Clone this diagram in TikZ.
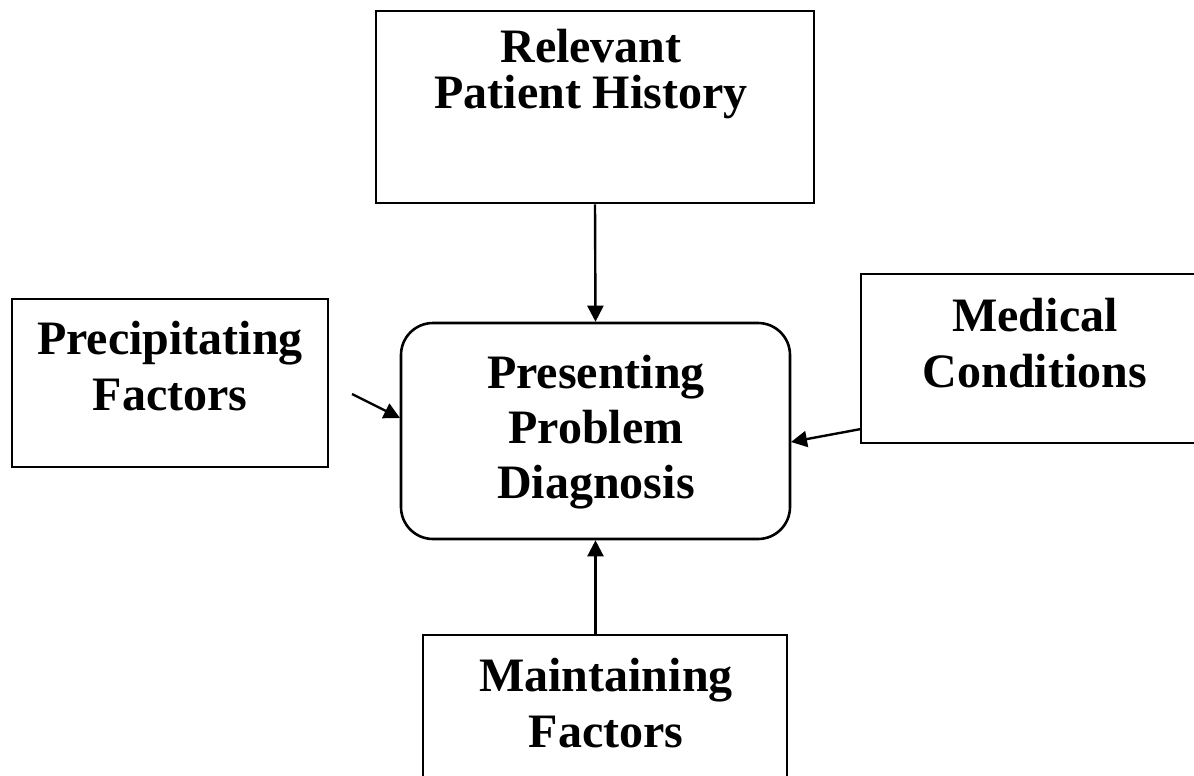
\documentclass[tikz,border=0pt]{standalone}
\usepackage{fontspec}
\setmainfont{Liberation Serif}
\usetikzlibrary{arrows.meta}
\begin{document}
\begin{tikzpicture}[x=0.5pt,y=-0.5pt,
  box/.style={draw, line width=1.3pt, inner sep=0pt},
  lbl/.style={font=\bfseries\fontsize{24}{28}\selectfont, align=center, anchor=base, inner sep=0pt},
  arr/.style={line width=1.2pt, -{Triangle[length=8pt,width=8pt]}}]
\useasboundingbox (0,0) rectangle (1194,776);
% boxes
\node[box, minimum width=219pt, minimum height=96pt] (hist) at (595,107) {};
\node[box, minimum width=158pt, minimum height=84pt] (prec) at (170,383) {};
\node[box, minimum width=177pt, minimum height=84.5pt] (med) at (1038,358.5) {};
\node[box, minimum width=182pt, minimum height=97.5pt] (maint) at (605,732.5) {};
\node[box, rounded corners=16pt, minimum width=194.5pt, minimum height=108pt] (pd) at (595.5,431) {};
% texts (anchor base = baseline of last line)
\node[lbl, font=\bfseries\fontsize{24}{23}\selectfont] (histtxt) at (591,108) {Relevant\\Patient History};
\node[lbl] (prectxt) at (170,410) {Precipitating\\Factors};
\node[lbl] (medtxt) at (1035,387) {Medical\\Conditions};
\node[lbl, font=\bfseries\fontsize{24}{27.5}\selectfont] (pdtxt) at (596,498) {Presenting\\Problem\\Diagnosis};
\node[lbl] (mainttxt) at (606,747) {Maintaining\\Factors};
% connectors
\coordinate (pfA) at (352,394);
\coordinate (pfB) at (400,418);
\coordinate (mcA) at (861,429);
\coordinate (mcB) at (791,442);
\draw[arr] (hist.south) -- (pd.north);
\draw[arr] (pd.south |- maint.north) -- (pd.south);
\draw[arr] (pfA) -- (pfB);
\draw[arr] (mcA) -- (mcB);
\end{tikzpicture}
\end{document}
